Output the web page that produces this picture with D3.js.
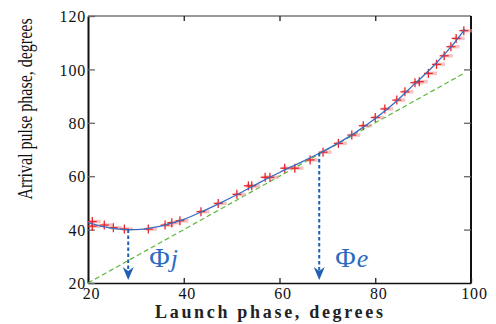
<!DOCTYPE html>
<html>
<head>
<meta charset="utf-8">
<script src="https://cdn.jsdelivr.net/npm/d3@7"></script>
<style>
  body { margin: 0; background: #fff; }
  svg { display: block; }
</style>
</head>
<body>
<div id="chart"></div>
<script>
// measured launch / arrival phases (degrees)
var launchPhase = [20.9, 20.9, 23.4, 25.3, 27.6, 32.6, 36.1, 37.5, 39.2, 43.6, 47.2, 51.1, 53.5, 54.2,
  57.0, 58.0, 61.1, 63.2, 66.4, 69.1, 72.3, 75.1, 77.5, 80.0, 82.0, 84.5, 86.2, 88.3, 89.2,
  91.1, 92.8, 94.4, 95.8, 96.9, 98.5];
var arrivalPhase = [43.0, 41.3, 41.7, 40.7, 40.2, 40.2, 41.7, 42.6, 43.3, 46.7, 49.8, 53.2, 56.4, 56.4,
  59.6, 59.6, 63.0, 63.0, 66.1, 69.0, 72.3, 75.4, 78.9, 82.0, 85.2, 88.5, 91.6, 95.0, 95.4,
  98.5, 101.9, 105.1, 108.5, 111.6, 114.5];

// fitted curve
var fitX = [20, 22, 24, 26, 28, 30, 32, 34, 36, 38, 40, 44, 48, 52, 56, 60, 64, 68, 72, 76, 80, 84, 88, 92, 96, 98.7];
var fitY = [42.6, 41.6, 40.8, 40.3, 40.0, 40.0, 40.3, 40.9, 41.7, 42.7, 43.8, 46.9, 50.3, 53.9, 57.8, 61.4, 64.8, 68.3, 72.1, 76.5, 81.6, 87.4, 94.2, 101.0, 108.8, 115.0];

// y = x reference
var diagX = [20, 98.7];

var xTicks = [20, 40, 60, 80, 100];
var yTicks = [20, 40, 60, 80, 100, 120];

// marked phases
var markers = [
  { name: "j", x: 28.4, from: 40.0 },
  { name: "e", x: 68.3, from: 68.7 }
];

var serif = "Liberation Serif, DejaVu Serif, serif";
var width = 496, height = 324;
var margin = { left: 88, right: 25, top: 16, bottom: 41 };

var svg = d3.select("#chart").append("svg")
  .attr("width", width).attr("height", height);

var x = d3.scaleLinear().domain([20, 100]).range([margin.left, width - margin.right]);
var y = d3.scaleLinear().domain([20, 120]).range([height - margin.bottom, margin.top]);

// frame
svg.append("line").attr("x1", x(20)).attr("x2", x(100)).attr("y1", y(120)).attr("y2", y(120))
  .attr("stroke", "#777").attr("stroke-width", 1.5);
svg.append("line").attr("x1", x(100)).attr("x2", x(100)).attr("y1", y(120)).attr("y2", y(20))
  .attr("stroke", "#111").attr("stroke-width", 2);

// axes
var gx = svg.append("g").attr("transform", "translate(0," + y(20) + ")")
  .call(d3.axisBottom(x).tickValues(xTicks).tickSize(-5).tickSizeOuter(0).tickPadding(5));
var gy = svg.append("g").attr("transform", "translate(" + x(20) + ",0)")
  .call(d3.axisLeft(y).tickValues(yTicks).tickSize(-7).tickSizeOuter(0).tickPadding(2));
var gt = svg.append("g").attr("transform", "translate(0," + y(120) + ")")
  .call(d3.axisTop(x).tickValues([40, 60, 80]).tickSize(-5).tickSizeOuter(0).tickFormat(""));
var gr = svg.append("g").attr("transform", "translate(" + x(100) + ",0)")
  .call(d3.axisRight(y).tickValues([40, 60, 80, 100]).tickSize(-7).tickSizeOuter(0).tickFormat(""));

gx.select(".domain").attr("stroke", "#111").attr("stroke-width", 1.5);
gy.select(".domain").attr("stroke", "#111").attr("stroke-width", 2);
gt.select(".domain").remove();
gr.select(".domain").remove();
gx.selectAll(".tick line").attr("stroke", "#222").attr("stroke-width", 1.3);
gt.selectAll(".tick line").attr("stroke", "#222").attr("stroke-width", 1.3);
gy.selectAll(".tick line").attr("stroke", "#666").attr("stroke-width", 1.3);
gr.selectAll(".tick line").attr("stroke", "#666").attr("stroke-width", 1.3);
[gx, gy].forEach(function(g) {
  g.attr("font-family", serif).attr("font-size", 16);
  g.selectAll(".tick text").attr("fill", "#111").attr("letter-spacing", 0.8);
});
gx.selectAll(".tick text").attr("dx", 3);
gy.selectAll(".tick text").attr("dy", "0.35em");

// identity line
svg.append("path")
  .datum(diagX)
  .attr("d", d3.line().x(function(d) { return x(d); }).y(function(d) { return y(d); }))
  .attr("fill", "none").attr("stroke", "#5cb83a").attr("stroke-width", 1.2)
  .attr("stroke-dasharray", "5,3");

// markers: pink halo then red cross
var pts = d3.range(launchPhase.length);
var arm = 4.5;
var halo = svg.append("g").attr("stroke", "#f29a9a").attr("stroke-width", 3.5).attr("opacity", 0.6);
pts.forEach(function(i) {
  var cx = x(launchPhase[i]) + 3, cy = y(arrivalPhase[i]);
  halo.append("line").attr("x1", cx - arm - 1).attr("x2", cx + arm + 1).attr("y1", cy).attr("y2", cy);
});
var crosses = svg.append("g").attr("stroke", "#e8262a").attr("stroke-width", 1.3);
pts.forEach(function(i) {
  var cx = x(launchPhase[i]), cy = y(arrivalPhase[i]);
  crosses.append("line").attr("x1", cx - arm).attr("x2", cx + arm).attr("y1", cy).attr("y2", cy);
  crosses.append("line").attr("x1", cx).attr("x2", cx).attr("y1", cy - arm).attr("y2", cy + arm);
});

// fitted curve
svg.append("path")
  .datum(d3.range(fitX.length))
  .attr("d", d3.line().curve(d3.curveCatmullRom)
    .x(function(i) { return x(fitX[i]); }).y(function(i) { return y(fitY[i]); }))
  .attr("fill", "none").attr("stroke", "#3a6cc0").attr("stroke-width", 1.3);

// phase arrows
var arrowCol = "#1f5fb4";
markers.forEach(function(m) {
  var px = x(m.x), tip = y(20) - 3;
  svg.append("line").attr("x1", px).attr("x2", px).attr("y1", y(m.from)).attr("y2", tip - 8)
    .attr("stroke", arrowCol).attr("stroke-width", 2).attr("stroke-dasharray", "3.5,2.5");
  svg.append("path")
    .attr("d", "M" + (px - 5.5) + "," + (tip - 13) + "L" + px + "," + (tip - 9) + "L" + (px + 5.5) + "," + (tip - 13) + "L" + px + "," + tip + "Z")
    .attr("fill", arrowCol);
  var t = svg.append("text")
    .attr("x", px + (m.name === "j" ? 21 : 16)).attr("y", y(20) - 16)
    .attr("font-family", serif).attr("font-size", 26)
    .attr("fill", "#2c6cc0");
  t.append("tspan").attr("font-size", 28).text("\u03A6");
  t.append("tspan").attr("font-style", "italic").attr("dx", 1).text(m.name);
});

// axis titles
svg.append("text")
  .attr("x", 269).attr("y", 318)
  .attr("text-anchor", "middle")
  .attr("font-family", serif)
  .attr("font-size", 18).attr("font-weight", "bold")
  .attr("fill", "#222")
  .attr("textLength", 228).attr("lengthAdjust", "spacing")
  .text("Launch phase, degrees");

// condensed look: squeeze along the text direction
svg.append("text")
  .attr("transform", "translate(32,109) rotate(-90) scale(0.8,1)")
  .attr("text-anchor", "middle")
  .attr("font-family", serif)
  .attr("font-size", 20).attr("fill", "#111")
  .text("Arrival pulse phase, degrees");
</script>
</body>
</html>
